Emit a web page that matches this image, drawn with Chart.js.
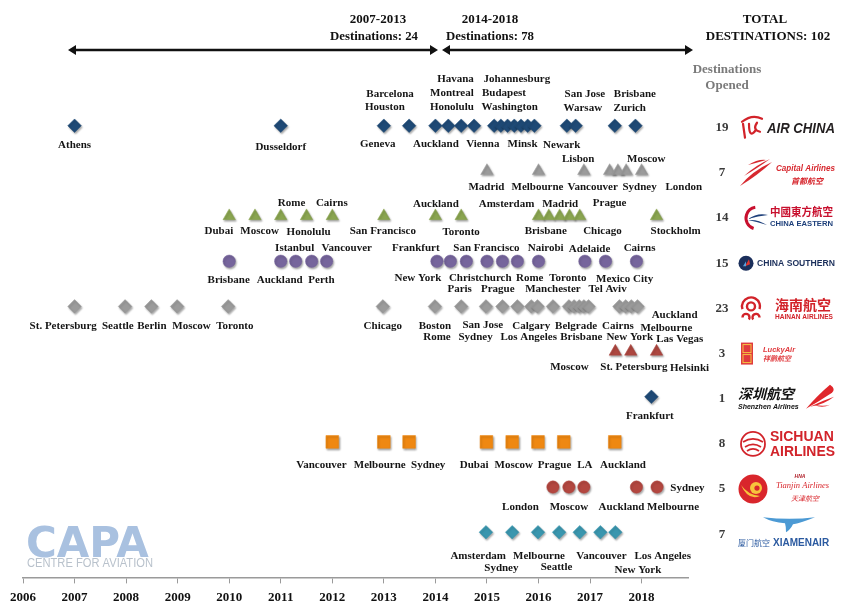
<!DOCTYPE html>
<html>
<head>
<meta charset="utf-8">
<script src="https://cdn.jsdelivr.net/npm/chart.js@4.4.1/dist/chart.umd.min.js"></script>
<style>
  html, body { margin: 0; padding: 0; background: #fff; }
  #wrap { width: 844px; height: 613px; position: relative; }
</style>
</head>
<body>
<div id="wrap"><canvas id="timeline"></canvas></div>
<script>
// ---- data ----
const yearTicks = [2006, 2007, 2008, 2009, 2010, 2011, 2012, 2013, 2014, 2015, 2016, 2017, 2018];

const airlines = ['Air China', 'Capital Airlines', 'China Eastern', 'China Southern', 'Hainan Airlines',
                  'Lucky Air', 'Shenzhen Airlines', 'Sichuan Airlines', 'Tianjin Airlines', 'Xiamen Air'];
const destinationsOpened = [19, 7, 14, 15, 23, 3, 1, 8, 5, 7];

const airChinaDates = [2007.0, 2011.0, 2013.0, 2013.49, 2014.0, 2014.25, 2014.5, 2014.75, 2015.14, 2015.27,
                       2015.4, 2015.53, 2015.66, 2015.79, 2015.92, 2016.55, 2016.72, 2017.48, 2017.88];
const capitalDates = [2015.0, 2016.0, 2016.88, 2017.38, 2017.54, 2017.7, 2018.0];
const chinaEasternDates = [2010.0, 2010.5, 2011.0, 2011.5, 2012.0, 2013.0, 2014.0, 2014.5, 2016.0, 2016.2,
                           2016.41, 2016.6, 2016.8, 2018.29];
const chinaSouthernDates = [2010.0, 2011.0, 2011.29, 2011.6, 2011.89, 2014.03, 2014.29, 2014.6, 2015.0, 2015.3,
                            2015.59, 2016.0, 2016.9, 2017.3, 2017.9];
const hainanDates = [2007.0, 2007.98, 2008.49, 2008.99, 2009.98, 2012.98, 2013.99, 2014.5, 2014.98, 2015.3,
                     2015.59, 2015.86, 2015.98, 2016.28, 2016.59, 2016.69, 2016.79, 2016.88, 2016.97, 2017.57,
                     2017.69, 2017.8, 2017.92];
const luckyAirDates = [2017.49, 2017.79, 2018.29];
const shenzhenDates = [2018.19];
const sichuanDates = [2012.0, 2013.0, 2013.49, 2014.99, 2015.49, 2015.99, 2016.49, 2017.48];
const tianjinDates = [2016.28, 2016.59, 2016.88, 2017.9, 2018.3];
const xiamenDates = [2014.98, 2015.49, 2015.99, 2016.4, 2016.8, 2017.2, 2017.49];

const airChinaCities = ['Athens', 'Dusseldorf', 'Geneva', 'Barcelona', 'Houston', 'Auckland', 'Havana', 'Montreal',
  'Honolulu', 'Vienna', 'Johannesburg', 'Budapest', 'Washington', 'Minsk', 'Newark', 'San Jose', 'Warsaw', 'Brisbane', 'Zurich'];
const capitalCities = ['Madrid', 'Melbourne', 'Lisbon', 'Vancouver', 'Moscow', 'Sydney', 'London'];
const chinaEasternCities = ['Dubai', 'Moscow', 'Honolulu', 'Rome', 'Cairns', 'San Francisco', 'Auckland', 'Toronto',
  'Amsterdam', 'Madrid', 'Brisbane', 'Prague', 'Chicago', 'Stockholm'];
const chinaSouthernCities = ['Brisbane', 'Auckland', 'Perth', 'Istanbul', 'Vancouver', 'Frankfurt', 'New York',
  'San Francisco', 'Christchurch', 'Nairobi', 'Rome', 'Toronto', 'Adelaide', 'Mexico City', 'Cairns'];
const hainanCities = ['St. Petersburg', 'Seattle', 'Berlin', 'Moscow', 'Toronto', 'Chicago', 'Boston', 'Rome', 'Paris',
  'San Jose', 'Sydney', 'Prague', 'Calgary', 'Los Angeles', 'Manchester', 'Belgrade', 'Brisbane', 'Tel Aviv', 'Cairns',
  'New York', 'Auckland', 'Melbourne', 'Las Vegas'];
const luckyAirCities = ['Moscow', 'St. Petersburg', 'Helsinki'];
const shenzhenCities = ['Frankfurt'];
const sichuanCities = ['Vancouver', 'Melbourne', 'Sydney', 'Dubai', 'Moscow', 'Prague', 'LA', 'Auckland'];
const tianjinCities = ['London', 'Moscow', 'Auckland', 'Melbourne', 'Sydney'];
const xiamenCities = ['Amsterdam', 'Sydney', 'Melbourne', 'Seattle', 'Vancouver', 'New York', 'Los Angeles'];

// ---- layout: where each city name sits (year it is centred on, pixel shift from its row) ----
const labelSpots = [
  [[2007.0,19],[2011.0,21],[2012.88,18],[2013.12,-32],[2013.02,-19],[2014.01,18],[2014.39,-47],[2014.32,-33],[2014.32,-19],
   [2014.92,18],[2015.58,-47],[2015.33,-33],[2015.44,-19],[2015.69,18],[2016.45,19],[2016.9,-32],[2016.86,-18],[2017.87,-32],[2017.77,-18]],
  [[2014.99,16],[2015.98,16],[2016.77,-12],[2017.05,16],[2018.09,-12],[2017.96,16],[2018.82,16]],
  [[2009.8,15],[2010.59,15],[2011.54,16],[2011.21,-13],[2011.99,-13],[2012.98,15],[2014.01,-12],[2014.5,16],[2015.38,-12],
   [2016.42,-12],[2016.14,15],[2017.38,-13],[2017.24,15],[2018.66,15]],
  [[2009.99,19],[2010.98,19],[2011.79,19],[2011.27,-13],[2012.28,-13],[2013.62,-13],[2013.66,17],[2014.99,-13],[2014.87,17],
   [2016.14,-13],[2015.83,17],[2016.57,17],[2016.99,-12],[2017.67,18],[2017.96,-13]],
  [[2006.78,20],[2007.84,20],[2008.5,20],[2009.27,20],[2010.11,20],[2012.98,20],[2013.99,20],[2014.03,31],[2014.47,-17],
   [2014.92,19],[2014.78,31],[2015.21,-17],[2015.86,20],[2015.81,31],[2016.28,-17],[2016.73,20],[2016.83,31],[2017.34,-17],
   [2017.54,20],[2017.77,31],[2018.64,9],[2018.48,22],[2018.74,33]],
  [[2016.6,16],[2017.85,16],[2018.93,17]],
  [[2018.16,19]],
  [[2011.79,23],[2012.92,23],[2013.86,23],[2014.75,23],[2015.52,23],[2016.31,23],[2016.9,23],[2017.64,23]],
  [[2015.65,20],[2016.59,20],[2017.61,20],[2018.61,20],[2018.89,1]],
  [[2014.83,24],[2015.28,36],[2016.01,24],[2016.35,35],[2017.22,24],[2017.93,38],[2018.41,24]]
];

const allDates = [airChinaDates, capitalDates, chinaEasternDates, chinaSouthernDates, hainanDates,
                  luckyAirDates, shenzhenDates, sichuanDates, tianjinDates, xiamenDates];
const allCities = [airChinaCities, capitalCities, chinaEasternCities, chinaSouthernCities, hainanCities,
                   luckyAirCities, shenzhenCities, sichuanCities, tianjinCities, xiamenCities];

// marker style per airline: shape, colour, radius
const markerStyles = [
  ['rectRot', '#1f4a76', 6.8], ['triangle', '#9b9b9b', 7.2], ['triangle', '#8aa550', 7.2], ['circle', '#76659c', 6.2],
  ['rectRot', '#9b9b9b', 6.8], ['triangle', '#ad4740', 7.2], ['rectRot', '#1f4a76', 6.8], ['rect', '#ef8812', 9],
  ['circle', '#b34740', 6.2], ['rectRot', '#3a96ae', 6.8]
];

const SERIF = '"Liberation Serif", "DejaVu Serif", serif';
const SANS = '"Liberation Sans", Arial, sans-serif';
const CJK = '"Noto Sans CJK SC", sans-serif';

const datasets = airlines.map((name, i) => {
  const row = airlines.length - i;
  return {
    label: name,
    data: allDates[i].map(d => ({ x: d, y: row })),
    pointStyle: markerStyles[i][0],
    pointRadius: markerStyles[i][2],
    pointBackgroundColor: markerStyles[i][1],
    pointBorderColor: markerStyles[i][1],
    pointBorderWidth: 0.5,
    showLine: false
  };
});

// soft shadow under markers
const shadowPlugin = {
  id: 'markerShadow',
  beforeDatasetsDraw(chart) {
    const ctx = chart.ctx;
    ctx.save();
    ctx.shadowColor = 'rgba(0,0,0,0.35)';
    ctx.shadowBlur = 2;
    ctx.shadowOffsetX = 1;
    ctx.shadowOffsetY = 1.5;
  },
  afterDatasetsDraw(chart) {
    chart.ctx.restore();
  }
};

function arrowLine(ctx, x1, x2, y) {
  ctx.save();
  ctx.strokeStyle = '#111';
  ctx.fillStyle = '#111';
  ctx.lineWidth = 2.6;
  ctx.beginPath();
  ctx.moveTo(x1 + 5, y);
  ctx.lineTo(x2 - 5, y);
  ctx.stroke();
  ctx.beginPath();
  ctx.moveTo(x1, y); ctx.lineTo(x1 + 8, y - 5); ctx.lineTo(x1 + 8, y + 5); ctx.closePath();
  ctx.moveTo(x2, y); ctx.lineTo(x2 - 8, y - 5); ctx.lineTo(x2 - 8, y + 5); ctx.closePath();
  ctx.fill();
  ctx.restore();
}

function text(ctx, str, x, y, font, color, align, maxW) {
  ctx.font = font;
  ctx.fillStyle = color;
  ctx.textAlign = align || 'center';
  ctx.textBaseline = 'middle';
  if (maxW) ctx.fillText(str, x, y, maxW); else ctx.fillText(str, x, y);
}

// rough airline marks drawn with canvas shapes and text
const logoDrawers = [
  function (ctx, y) { // Air China
    ctx.strokeStyle = '#d2232a'; ctx.lineWidth = 2.2; ctx.lineCap = 'round';
    ctx.beginPath(); ctx.moveTo(743, y - 4); ctx.lineTo(745, y + 10); ctx.stroke();
    ctx.beginPath(); ctx.moveTo(749, y - 4); ctx.quadraticCurveTo(749, y + 12, 756, y + 2); ctx.stroke();
    ctx.beginPath(); ctx.moveTo(742, y - 6); ctx.quadraticCurveTo(752, y - 14, 762, y - 9); ctx.stroke();
    ctx.beginPath(); ctx.moveTo(757, y - 5); ctx.quadraticCurveTo(752, y + 2, 760, y + 4); ctx.stroke();
    text(ctx, 'AIR CHINA', 767, y + 1, 'italic bold 14px ' + SANS, '#231f20', 'left', 68);
  },
  function (ctx, y) { // Capital Airlines
    ctx.fillStyle = '#d7282f';
    ctx.beginPath(); ctx.moveTo(740, y + 13); ctx.quadraticCurveTo(752, y - 2, 772, y - 11);
    ctx.quadraticCurveTo(758, y + 2, 740, y + 13); ctx.fill();
    ctx.beginPath(); ctx.moveTo(744, y + 3); ctx.quadraticCurveTo(756, y - 8, 770, y - 14);
    ctx.quadraticCurveTo(756, y - 4, 744, y + 3); ctx.fill();
    ctx.beginPath(); ctx.moveTo(748, y - 8); ctx.quadraticCurveTo(758, y - 14, 766, y - 13);
    ctx.quadraticCurveTo(756, y - 10, 748, y - 8); ctx.fill();
    text(ctx, 'Capital Airlines', 776, y - 4, 'italic bold 9px ' + SANS, '#d7282f', 'left', 59);
    text(ctx, '首都航空', 791, y + 8, 'italic bold 8px ' + CJK, '#d7282f', 'left');
  },
  function (ctx, y) { // China Eastern
    ctx.strokeStyle = '#c8102e'; ctx.lineWidth = 3;
    ctx.beginPath(); ctx.arc(757, y, 11, Math.PI * 0.6, Math.PI * 1.45); ctx.stroke();
    ctx.fillStyle = '#1d3f7a';
    ctx.beginPath(); ctx.moveTo(748, y + 1); ctx.quadraticCurveTo(758, y - 6, 768, y - 3);
    ctx.quadraticCurveTo(758, y - 2, 748, y + 1); ctx.fill();
    ctx.beginPath(); ctx.moveTo(748, y + 2); ctx.quadraticCurveTo(758, y + 4, 767, y + 7);
    ctx.quadraticCurveTo(758, y + 1, 748, y + 2); ctx.fill();
    text(ctx, '中國東方航空', 770, y - 6, 'bold 11px "Noto Sans CJK TC", sans-serif', '#c8102e', 'left', 63);
    text(ctx, 'CHINA EASTERN', 770, y + 6, 'bold 8px ' + SANS, '#1d3f7a', 'left', 63);
  },
  function (ctx, y) { // China Southern
    ctx.fillStyle = '#1b2f5b';
    ctx.beginPath(); ctx.arc(746, y, 7.5, 0, Math.PI * 2); ctx.fill();
    ctx.fillStyle = '#e3362f';
    ctx.beginPath(); ctx.moveTo(745, y + 3); ctx.lineTo(749, y - 4); ctx.lineTo(750, y + 1); ctx.closePath(); ctx.fill();
    ctx.fillStyle = '#5aa0dc';
    ctx.beginPath(); ctx.moveTo(743, y + 3); ctx.lineTo(746, y - 2); ctx.lineTo(746, y + 3); ctx.closePath(); ctx.fill();
    text(ctx, 'CHINA SOUTHERN', 757, y, 'bold 9px ' + SANS, '#1b2f5b', 'left', 78);
  },
  function (ctx, y) { // Hainan
    ctx.strokeStyle = '#d2232a'; ctx.lineWidth = 2.4;
    ctx.beginPath(); ctx.arc(751, y - 2, 9, Math.PI * 0.9, Math.PI * 2.1); ctx.stroke();
    ctx.beginPath(); ctx.arc(751, y - 2, 4, 0, Math.PI * 2); ctx.stroke();
    ctx.beginPath(); ctx.arc(746, y + 9, 3.5, Math.PI, Math.PI * 2.2); ctx.stroke();
    ctx.beginPath(); ctx.arc(756, y + 9, 3.5, Math.PI * 0.8, Math.PI * 2); ctx.stroke();
    text(ctx, '海南航空', 775, y - 4, 'bold 14px ' + CJK, '#d2232a', 'left', 58);
    text(ctx, 'HAINAN AIRLINES', 775, y + 9, 'bold 7px ' + SANS, '#d2232a', 'left', 58);
  },
  function (ctx, y) { // Lucky Air
    ctx.fillStyle = '#e03a3e';
    ctx.fillRect(741, y - 11, 12, 22);
    ctx.strokeStyle = '#f5c342'; ctx.lineWidth = 1;
    ctx.strokeRect(743, y - 9, 8, 8); ctx.strokeRect(743, y + 1, 8, 8);
    text(ctx, 'LuckyAir', 763, y - 4, 'italic bold 7.5px ' + SANS, '#e03a3e', 'left');
    text(ctx, '祥鹏航空', 763, y + 5, 'italic bold 7px ' + CJK, '#e03a3e', 'left');
  },
  function (ctx, y) { // Shenzhen
    text(ctx, '深圳航空', 738, y - 5, 'italic bold 14px ' + CJK, '#111', 'left', 64);
    text(ctx, 'Shenzhen Airlines', 738, y + 8, 'italic bold 7px ' + SANS, '#111', 'left', 63);
    ctx.fillStyle = '#e0262b';
    ctx.beginPath(); ctx.moveTo(806, y + 10); ctx.quadraticCurveTo(818, y - 4, 830, y - 14);
    ctx.quadraticCurveTo(836, y - 10, 832, y - 6); ctx.quadraticCurveTo(820, y + 2, 806, y + 10); ctx.fill();
    ctx.beginPath(); ctx.moveTo(810, y + 8); ctx.quadraticCurveTo(822, y + 2, 834, y - 2);
    ctx.quadraticCurveTo(824, y + 6, 810, y + 8); ctx.fill();
    ctx.beginPath(); ctx.moveTo(814, y + 6); ctx.quadraticCurveTo(824, y + 8, 830, y + 6);
    ctx.quadraticCurveTo(822, y + 10, 814, y + 6); ctx.fill();
  },
  function (ctx, y) { // Sichuan
    ctx.strokeStyle = '#d2232a'; ctx.lineWidth = 1.8;
    ctx.beginPath(); ctx.arc(753, y, 12, 0, Math.PI * 2); ctx.stroke();
    ctx.beginPath(); ctx.moveTo(743, y - 2); ctx.quadraticCurveTo(753, y - 8, 763, y - 2); ctx.stroke();
    ctx.beginPath(); ctx.moveTo(745, y + 3); ctx.quadraticCurveTo(753, y - 2, 761, y + 3); ctx.stroke();
    ctx.beginPath(); ctx.moveTo(747, y + 7); ctx.quadraticCurveTo(753, y + 3, 759, y + 7); ctx.stroke();
    text(ctx, 'SICHUAN', 770, y - 7, 'bold 14px ' + SANS, '#d2232a', 'left', 65);
    text(ctx, 'AIRLINES', 770, y + 8, 'bold 14px ' + SANS, '#d2232a', 'left', 65);
  },
  function (ctx, y) { // Tianjin
    ctx.fillStyle = '#d9262c';
    ctx.beginPath(); ctx.arc(753, y, 14.5, 0, Math.PI * 2); ctx.fill();
    ctx.fillStyle = '#f7c43c';
    ctx.beginPath(); ctx.arc(756, y - 1, 6, 0, Math.PI * 2); ctx.fill();
    ctx.beginPath(); ctx.moveTo(741, y - 4); ctx.quadraticCurveTo(748, y + 6, 760, y + 7);
    ctx.quadraticCurveTo(748, y + 12, 741, y - 4); ctx.fill();
    ctx.fillStyle = '#d9262c';
    ctx.beginPath(); ctx.arc(757, y - 1, 2.6, 0, Math.PI * 2); ctx.fill();
    text(ctx, 'HNA', 800, y - 12, 'italic bold 5px ' + SANS, '#b0202a', 'center');
    text(ctx, 'Tianjin Airlines', 776, y - 3, 'italic 8.5px ' + SERIF, '#d9262c', 'left', 55);
    text(ctx, '天津航空', 791, y + 9, 'italic 7px ' + CJK, '#d9262c', 'left');
  },
  function (ctx, y) { // Xiamen
    ctx.fillStyle = '#4c9ad4';
    ctx.beginPath(); ctx.moveTo(763, y - 17); ctx.quadraticCurveTo(790, y - 14, 815, y - 17);
    ctx.quadraticCurveTo(800, y - 11, 793, y - 10); ctx.quadraticCurveTo(790, y - 4, 786, y - 2);
    ctx.quadraticCurveTo(786, y - 8, 785, y - 11); ctx.quadraticCurveTo(772, y - 12, 763, y - 17); ctx.fill();
    text(ctx, '厦门航空', 738, y + 9, '8px ' + CJK, '#2b5aa0', 'left', 32);
    text(ctx, 'XIAMENAIR', 773, y + 9, 'bold 10px ' + SANS, '#2b5aa0', 'left', 62);
  }
];

const decorPlugin = {
  id: 'decor',
  afterDatasetsDraw(chart) {
    const ctx = chart.ctx;
    const xs = chart.scales.x, ys = chart.scales.y;
    ctx.save();
    // city names
    allCities.forEach((cities, i) => {
      const rowPx = ys.getPixelForValue(airlines.length - i);
      cities.forEach((city, k) => {
        const spot = labelSpots[i][k];
        text(ctx, city, xs.getPixelForValue(spot[0]), rowPx + spot[1], 'bold 11px ' + SERIF, '#151515', 'center');
      });
    });
    ctx.restore();
  },
  afterDraw(chart) {
    const ctx = chart.ctx;
    const ys = chart.scales.y;
    ctx.save();
    // period headers
    text(ctx, '2007-2013', 378, 20, 'bold 13px ' + SERIF, '#111');
    text(ctx, 'Destinations: 24', 374, 37, 'bold 13px ' + SERIF, '#111', 'center', 88);
    text(ctx, '2014-2018', 490, 20, 'bold 13px ' + SERIF, '#111');
    text(ctx, 'Destinations: 78', 490, 37, 'bold 13px ' + SERIF, '#111', 'center', 88);
    text(ctx, 'TOTAL', 765, 20, 'bold 13px ' + SERIF, '#111');
    text(ctx, 'DESTINATIONS: ' + destinationsOpened.reduce((a, b) => a + b, 0), 768, 37, 'bold 13px ' + SERIF, '#111', 'center', 136);
    arrowLine(ctx, 68, 438, 50);
    arrowLine(ctx, 442, 693, 50);
    // right column
    text(ctx, 'Destinations', 727, 70, 'bold 13px ' + SERIF, '#7a7a7a', 'center', 76);
    text(ctx, 'Opened', 727, 86, 'bold 13px ' + SERIF, '#7a7a7a');
    destinationsOpened.forEach((n, i) => {
      const rowPx = ys.getPixelForValue(airlines.length - i);
      text(ctx, String(n), 722, rowPx + 2, 'bold 13px ' + SERIF, '#3a3a3a');
      ctx.save();
      logoDrawers[i](ctx, rowPx + 2);
      ctx.restore();
    });
    // CAPA mark
    ctx.font = 'bold 42px "DejaVu Sans", sans-serif';
    ctx.fillStyle = '#a9c1e0';
    ctx.textAlign = 'left';
    ctx.textBaseline = 'alphabetic';
    ctx.fillText('CAPA', 26, 557, 127);
    text(ctx, 'CENTRE FOR AVIATION', 27, 564, '12px ' + SANS, '#b9c2cc', 'left', 126);
    ctx.restore();
  }
};

new Chart(document.getElementById('timeline'), {
  type: 'scatter',
  data: { datasets: datasets },
  options: {
    responsive: true,
    maintainAspectRatio: false,
    animation: false,
    layout: { padding: { left: 23, right: 156, top: 58, bottom: 2 } },
    scales: {
      x: {
        type: 'linear',
        min: 2006,
        max: 2018.9,
        afterBuildTicks: s => { s.ticks = yearTicks.map(v => ({ value: v })); },
        ticks: {
          color: '#111',
          font: { family: 'Liberation Serif', size: 13, weight: 'bold' },
          padding: 6,
          maxRotation: 0,
          autoSkip: false,
          callback: v => String(v)
        },
        grid: { drawOnChartArea: false, drawTicks: true, tickLength: 6, color: '#9a9a9a', lineWidth: 1 },
        border: { display: true, color: '#9a9a9a', width: 1.5 }
      },
      y: {
        type: 'linear',
        display: false,
        min: 0,
        max: 11.5
      }
    },
    plugins: {
      legend: { display: false },
      tooltip: { enabled: false }
    }
  },
  plugins: [shadowPlugin, decorPlugin]
});
</script>
</body>
</html>
